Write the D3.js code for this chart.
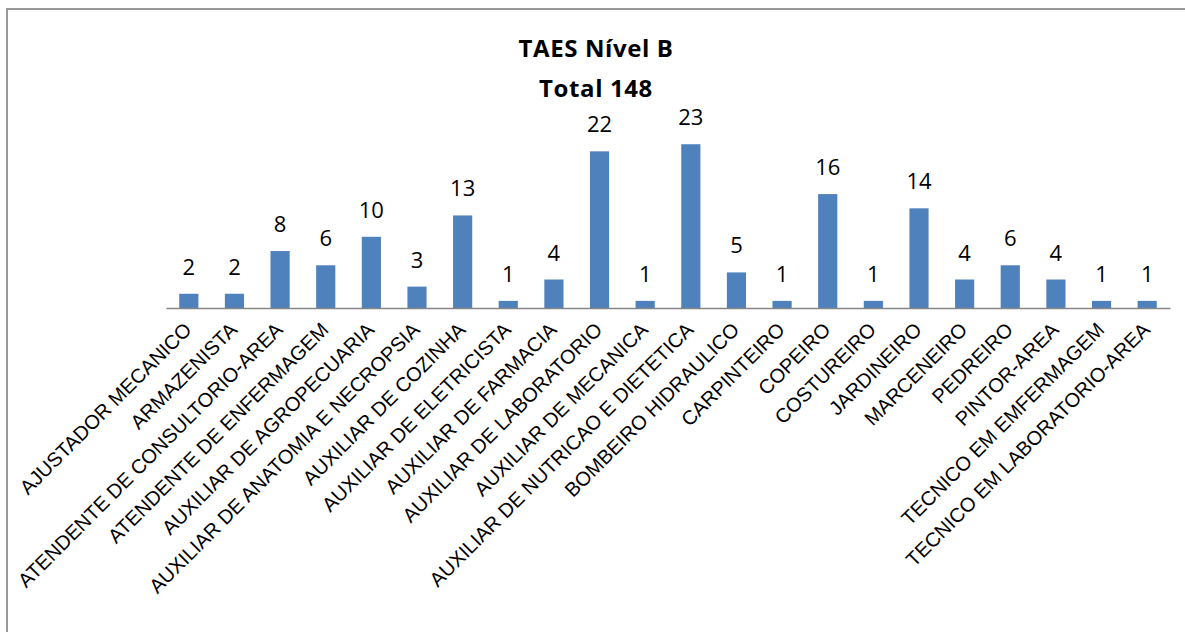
<!DOCTYPE html>
<html>
<head>
<meta charset="utf-8">
<script src="https://cdn.jsdelivr.net/npm/d3@7"></script>
<style>
  html, body { margin: 0; padding: 0; background: #fff; }
  svg { display: block; }
</style>
</head>
<body>
<svg id="chart" width="1185" height="632"></svg>
<script>
// Cargos TAES de nível B e número de servidores por cargo
const categories = [
  "AJUSTADOR MECANICO",
  "ARMAZENISTA",
  "ATENDENTE DE CONSULTORIO-AREA",
  "ATENDENTE DE ENFERMAGEM",
  "AUXILIAR DE AGROPECUARIA",
  "AUXILIAR DE ANATOMIA E NECROPSIA",
  "AUXILIAR DE COZINHA",
  "AUXILIAR DE ELETRICISTA",
  "AUXILIAR DE FARMACIA",
  "AUXILIAR DE LABORATORIO",
  "AUXILIAR DE MECANICA",
  "AUXILIAR DE NUTRICAO E DIETETICA",
  "BOMBEIRO HIDRAULICO",
  "CARPINTEIRO",
  "COPEIRO",
  "COSTUREIRO",
  "JARDINEIRO",
  "MARCENEIRO",
  "PEDREIRO",
  "PINTOR-AREA",
  "TECNICO EM EMFERMAGEM",
  "TECNICO EM LABORATORIO-AREA"
];
const values = [2, 2, 8, 6, 10, 3, 13, 1, 4, 22, 1, 23, 5, 1, 16, 1, 14, 4, 6, 4, 1, 1];
const titleLines = ["TAES Nível B", "Total 148"];

const svg = d3.select("#chart");

// Moldura da área do gráfico
svg.append("rect")
  .attr("x", 7).attr("y", 9)
  .attr("width", 1190).attr("height", 640)
  .attr("fill", "#fff")
  .attr("stroke", "#9a9a9a")
  .attr("stroke-width", 2);

const plot = { left: 166, right: 1170, top: 130, bottom: 308 };

const x = d3.scaleBand()
  .domain(categories)
  .range([plot.left, plot.right])
  .paddingInner(0.58)
  .paddingOuter(0.29);

const y = d3.scaleLinear()
  .domain([0, 25])
  .range([plot.bottom, plot.top]);

// Título
svg.append("g")
  .selectAll("text")
  .data(titleLines)
  .join("text")
  .attr("x", 596)
  .attr("y", (d, i) => 57 + i * 39.5)
  .attr("text-anchor", "middle")
  .attr("font-family", "'Open Sans', Lato, sans-serif")
  .attr("font-weight", "bold")
  .attr("font-size", 24)
  .attr("letter-spacing", 0.6)
  .attr("fill", "#000")
  .text(d => d);

// Barras
svg.append("g")
  .selectAll("rect")
  .data(values)
  .join("rect")
  .attr("x", (d, i) => x(categories[i]))
  .attr("y", d => y(d))
  .attr("width", x.bandwidth())
  .attr("height", d => y(0) - y(d))
  .attr("fill", "#4F81BD");

// Rótulos de valor
svg.append("g")
  .selectAll("text")
  .data(values)
  .join("text")
  .attr("x", (d, i) => x(categories[i]) + x.bandwidth() / 2)
  .attr("y", d => y(d) - 19)
  .attr("text-anchor", "middle")
  .attr("font-family", "'Open Sans', Lato, sans-serif")
  .attr("font-size", 22)
  .attr("fill", "#000")
  .text(d => d);

// Eixo das categorias
const axis = svg.append("g")
  .attr("transform", `translate(0,${plot.bottom})`)
  .call(d3.axisBottom(x).tickSize(0).tickSizeOuter(0));

axis.select(".domain")
  .attr("stroke", "#868686")
  .attr("stroke-width", 1.5);

axis.selectAll(".tick text")
  .attr("font-family", "'Liberation Sans', Arial, sans-serif")
  .attr("font-size", 20)
  .attr("fill", "#000")
  .attr("text-anchor", "end")
  .attr("x", 0).attr("y", 0)
  .attr("dy", "0.35em")
  .attr("transform", "translate(-1,18) rotate(-45)");
</script>
</body>
</html>
